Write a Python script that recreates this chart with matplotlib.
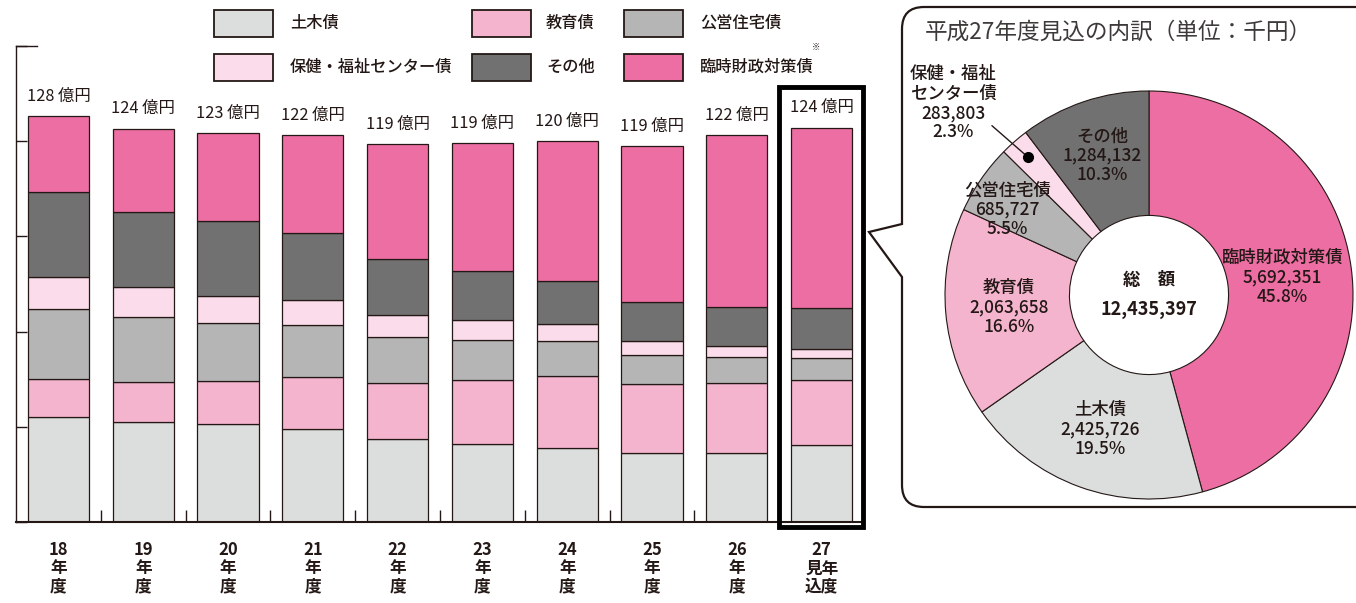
import numpy as np
import matplotlib.pyplot as plt
from matplotlib.patches import Rectangle, PathPatch
from matplotlib.path import Path

plt.rcParams['font.family'] = ['Noto Sans CJK JP', 'DejaVu Sans']

# --- data (億円) ---
year_labels = ['18\n年\n度', '19\n年\n度', '20\n年\n度', '21\n年\n度', '22\n年\n度',
               '23\n年\n度', '24\n年\n度', '25\n年\n度', '26\n年\n度', '27\n見年\n込度']
totals = [128, 124, 123, 122, 119, 119, 120, 119, 122, 124]
doboku = [33.1, 31.6, 30.8, 29.4, 26.3, 24.6, 23.4, 21.9, 21.8, 24.3]
kyoiku = [11.9, 12.6, 13.5, 16.4, 17.5, 20.0, 22.7, 21.5, 21.9, 20.6]
jutaku = [22.1, 20.5, 18.3, 16.2, 14.4, 12.7, 10.8, 9.3, 8.2, 6.9]
hoken = [10.2, 9.4, 8.6, 7.9, 7.0, 6.2, 5.5, 4.4, 3.5, 2.8]
sonota = [26.7, 23.7, 23.7, 21.2, 17.7, 15.6, 13.6, 12.2, 12.5, 12.8]
rinji = [24.0, 26.2, 27.8, 30.7, 36.3, 40.3, 44.1, 49.2, 53.9, 56.9]

# pie (千円)
pie_names = ['臨時財政対策債', '土木債', '教育債', '公営住宅債', '保健・福祉\nセンター債', 'その他']
pie_values = [5692351, 2425726, 2063658, 685727, 283803, 1284132]

c_doboku = '#dcdddd'
c_kyoiku = '#f4b4ce'
c_jutaku = '#b5b5b6'
c_hoken = '#fbdcea'
c_sonota = '#727171'
c_rinji = '#ec6ea3'
ink = '#231815'

W, H = 1356, 603
fig = plt.figure(figsize=(W / 100, H / 100), dpi=100)

# ---------------- stacked bars ----------------
ax = fig.add_axes([16 / W, (H - 522) / H, 848 / W, 476 / H])
ax.patch.set_alpha(0)
x = np.arange(len(totals))
series = [(doboku, c_doboku), (kyoiku, c_kyoiku), (jutaku, c_jutaku),
          (hoken, c_hoken), (sonota, c_sonota), (rinji, c_rinji)]
bottom = np.zeros(len(totals))
for vals, col in series:
    ax.bar(x, vals, 0.72, bottom=bottom, color=col, edgecolor=ink, linewidth=0.9)
    bottom += np.array(vals)

for i, t in enumerate(totals):
    ax.annotate(f'{t} 億円', (x[i], bottom[i]), xytext=(0, 8), textcoords='offset points',
                ha='center', va='bottom', fontsize=11.8, color=ink)

# highlight box around the estimate year
ax.add_patch(Rectangle((8.5, -1.6), 0.99, 138.8, fill=False, edgecolor='black',
                       linewidth=3.5, clip_on=False, zorder=5))

ax.set_xlim(-0.5, 9.5)
ax.set_ylim(0, 150)
ax.set_xticks(x)
ax.set_xticklabels(year_labels, fontsize=12, fontweight='bold', linespacing=1.0, color=ink)
ax.set_xticks(np.arange(0.5, 9, 1), minor=True)
ax.tick_params(axis='x', which='major', length=0, pad=14)
ax.tick_params(axis='x', which='minor', direction='in', length=9, width=1, color=ink)
ax.set_yticks(range(0, 151, 30))
ax.set_yticklabels([])
ax.tick_params(axis='y', direction='in', length=8, width=1, color=ink)
ax.plot([-0.5, -0.25], [150, 150], color=ink, lw=1, clip_on=False)
for s in ['top', 'right']:
    ax.spines[s].set_visible(False)
ax.spines['left'].set_linewidth(1)
ax.spines['bottom'].set_linewidth(1.5)
ax.spines['left'].set_color(ink)
ax.spines['bottom'].set_color(ink)

# ---------------- donut ----------------
cx, cy, r = 1149, 295, 204
ax2 = fig.add_axes([(cx - r) / W, (H - cy - r) / H, 2 * r / W, 2 * r / H])
pie_colors = [c_rinji, c_doboku, c_kyoiku, c_jutaku, c_hoken, c_sonota]
wedges, _ = ax2.pie(pie_values, colors=pie_colors, startangle=90, counterclock=False,
                    radius=1, wedgeprops=dict(width=0.61, edgecolor=ink, linewidth=0.8))
ax2.set_xlim(-1, 1)
ax2.set_ylim(-1, 1)

total = sum(pie_values)
label_r = [0.66, 0.70, 0.69, 0.81, None, 0.72]
label_shift = [0, 0, 0, 3.5, 0, 0]
for w, name, v, lr, sh in zip(wedges, pie_names, pie_values, label_r, label_shift):
    txt = f'{name}\n{v:,}\n{v / total * 100:.1f}%'
    mid = np.deg2rad((w.theta1 + w.theta2) / 2 + sh)
    if lr is None:
        dot = (0.9 * np.cos(mid), 0.9 * np.sin(mid))
        ax2.plot(*dot, 'o', color='black', ms=7, zorder=5)
        ax2.annotate('', xy=dot, xytext=(-0.77, 0.83),
                     arrowprops=dict(arrowstyle='-', lw=1, color=ink, shrinkA=0, shrinkB=0))
        ax2.text(-0.96, 0.94, txt, ha='center', va='center', fontsize=12.5,
                 linespacing=1.1, color=ink, fontweight='medium')
    else:
        ax2.text(lr * np.cos(mid), lr * np.sin(mid), txt, ha='center', va='center',
                 fontsize=12.5, linespacing=1.1, color=ink, fontweight='medium')

ax2.text(0, 0.074, '総　額', ha='center', va='center', fontsize=12.5,
         fontweight='bold', color=ink)
ax2.text(0, -0.07, f'{total:,}', ha='center', va='center', fontsize=13,
         fontweight='bold', color=ink)

# ---------------- overlay: legend + speech bubble ----------------
ov = fig.add_axes([0, 0, 1, 1], zorder=3)
ov.set_xlim(0, W)
ov.set_ylim(H, 0)
ov.axis('off')
ov.patch.set_alpha(0)

legend_items = [('土木債', c_doboku), ('教育債', c_kyoiku), ('公営住宅債', c_jutaku),
                ('保健・福祉センター債', c_hoken), ('その他', c_sonota), ('臨時財政対策債', c_rinji)]
col_box = [214, 472, 624]
col_txt = [290, 546, 700]
row_y = [10, 54]
for k, (lab, col) in enumerate(legend_items):
    ci, ri = k % 3, k // 3
    ov.add_patch(Rectangle((col_box[ci], row_y[ri]), 59, 27, facecolor=col,
                           edgecolor=ink, linewidth=1.3))
    ov.text(col_txt[ci], row_y[ri] + 13.5, lab, ha='left', va='center',
            fontsize=11.7, color=ink, fontweight='medium')
ov.text(816, 47, '※', ha='center', va='center', fontsize=6, color=ink)

# bubble outline with pointer
L, T, B, R, rc = 902, 7, 507, 1366, 22
verts = [(R, T), (L + rc, T), (L, T), (L, T + rc), (L, 224), (869, 232), (L, 277),
         (L, B - rc), (L, B), (L + rc, B), (R, B)]
codes = [Path.MOVETO, Path.LINETO, Path.CURVE3, Path.CURVE3, Path.LINETO, Path.LINETO,
         Path.LINETO, Path.LINETO, Path.CURVE3, Path.CURVE3, Path.LINETO]
ov.add_patch(PathPatch(Path(verts, codes), facecolor='none', edgecolor=ink, linewidth=1.6))
ov.text(925, 32, '平成27年度見込の内訳（単位：千円）', ha='left', va='center',
        fontsize=16.3, color='#3e3a39')

fig.savefig('out.png', dpi=100, facecolor='white')
